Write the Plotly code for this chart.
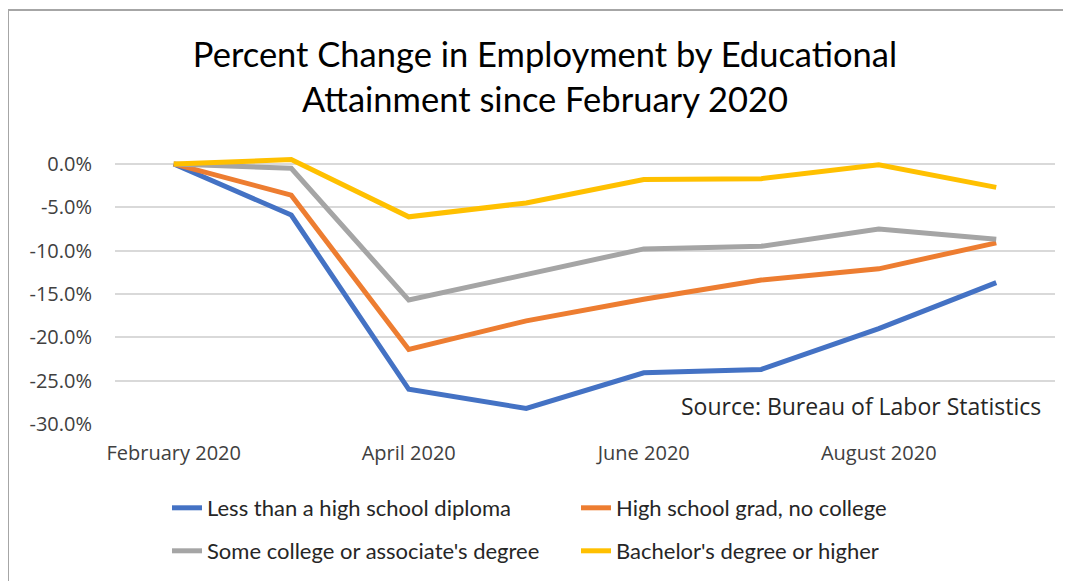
import plotly.graph_objects as go

months = ["February 2020", "March 2020", "April 2020", "May 2020",
          "June 2020", "July 2020", "August 2020", "September 2020"]
shown_labels = ["February 2020", "", "April 2020", "", "June 2020", "", "August 2020", ""]

less_than_hs = [0.0, -5.9, -26.0, -28.2, -24.1, -23.7, -19.0, -13.7]
hs_grad = [0.0, -3.6, -21.4, -18.1, -15.6, -13.4, -12.1, -9.1]
some_college = [0.0, -0.5, -15.7, -12.8, -9.8, -9.5, -7.5, -8.7]
bachelors = [0.0, 0.5, -6.1, -4.5, -1.8, -1.7, -0.1, -2.7]

series_names = ["Less than a high school diploma", "High school grad, no college",
                "Some college or associate's degree", "Bachelor's degree or higher"]
series_values = [less_than_hs, hs_grad, some_college, bachelors]
colors = ["#4472C4", "#ED7D31", "#A5A5A5", "#FFC000"]
legend_ids = ["legend", "legend", "legend2", "legend2"]

y_ticks = [0, -5, -10, -15, -20, -25, -30]
y_tick_text = [f"{v:.1f}%" for v in y_ticks]

# page body margin offsets the figure by 8px; work in figure pixels
OFF = 8
W, H = 1071 - OFF, 581 - OFF
L, R, T, B = 115 - OFF, 16, 157 - OFF, 157
PW, PH = W - L - R, H - T - B
ymin, ymax = -30.0, 0.8


def px_x(x):
    return (x - OFF - L) / PW


def px_y(y):
    return (H - B - (y - OFF)) / PH


fig = go.Figure()
xs = list(range(len(months)))
for name, vals, col, lg in zip(series_names, series_values, colors, legend_ids):
    fig.add_trace(go.Scatter(
        x=xs, y=vals, mode="lines", name=name,
        line=dict(color=col, width=5, shape="linear"),
        legend=lg,
        hovertemplate="%{y:.1f}%<extra>" + name + "</extra>",
    ))

zero_pos = (0 - ymin) / (ymax - ymin)

tick_font = dict(family="Open Sans, sans-serif", size=20, color="#404040")
leg_font = dict(family="Lato, Noto Sans, sans-serif", size=22, color="#262626")

fig.update_layout(
    width=W, height=H,
    paper_bgcolor="white", plot_bgcolor="white",
    margin=dict(l=L, r=R, t=T, b=B, autoexpand=False),
    title=dict(
        text="Percent Change in Employment by Educational<br>Attainment since February 2020",
        x=(545 - OFF) / W, xref="container", xanchor="center",
        y=1 - (67 - OFF) / H, yanchor="middle",
        font=dict(family="Lato, Noto Sans, sans-serif", size=34.5, color="#000000"),
    ),
    xaxis=dict(
        range=[-0.5, 7.5], tickmode="array", tickvals=xs, ticktext=shown_labels,
        showgrid=False, zeroline=False, showline=False, ticks="",
        ticklabelstandoff=15, tickfont=tick_font, fixedrange=True,
    ),
    xaxis2=dict(
        overlaying="x", anchor="free", position=zero_pos, side="bottom",
        range=[-0.5, 7.5], tickmode="array", tickvals=[-0.5, 1.5, 3.5, 5.5, 7.5],
        showticklabels=False, ticks="outside", ticklen=7, tickcolor="#D9D9D9", tickwidth=2,
        showline=True, linecolor="#D9D9D9", linewidth=2, showgrid=False, zeroline=False,
    ),
    yaxis=dict(
        range=[ymin, ymax], tickmode="array", tickvals=y_ticks, ticktext=y_tick_text,
        showgrid=True, gridcolor="#D9D9D9", gridwidth=2, zeroline=False, showline=False,
        ticks="", ticklabelstandoff=22, tickfont=tick_font, fixedrange=True,
    ),
    legend=dict(
        orientation="h", x=px_x(167), xanchor="left", y=px_y(508), yanchor="middle",
        entrywidth=364, entrywidthmode="pixels",
        font=leg_font, bgcolor="rgba(0,0,0,0)", traceorder="normal",
    ),
    legend2=dict(
        orientation="h", x=px_x(167), xanchor="left", y=px_y(551), yanchor="middle",
        entrywidth=364, entrywidthmode="pixels",
        font=leg_font, bgcolor="rgba(0,0,0,0)", traceorder="normal",
    ),
    annotations=[dict(
        text="Source: Bureau of Labor Statistics", xref="paper", yref="y",
        x=px_x(1043), xanchor="right", y=-27.9, yanchor="middle",
        showarrow=False,
        font=dict(family="Open Sans, sans-serif", size=23, color="#262626"),
    )],
    shapes=[dict(
        type="rect", xref="paper", yref="paper", layer="above",
        x0=px_x(8), x1=1.2, y0=-1.0, y1=px_y(10),
        line=dict(color="#A6A6A6", width=2), fillcolor="rgba(0,0,0,0)",
    )],
)
fig.write_html("out.html")
